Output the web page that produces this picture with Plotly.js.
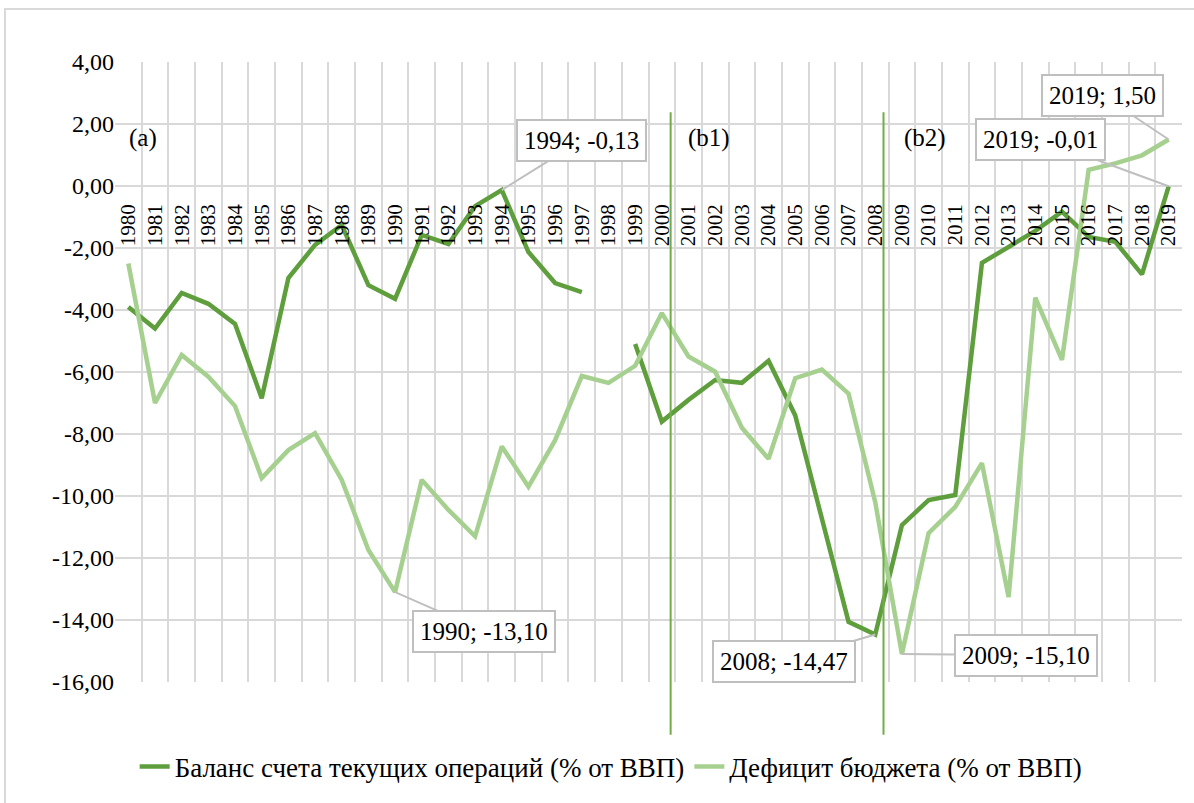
<!DOCTYPE html>
<html>
<head>
<meta charset="utf-8">
<script src="https://cdn.plot.ly/plotly-3.0.1.min.js"></script>
<style>
html,body{margin:0;padding:0;background:#fff;}
#chart text{font-family:"Liberation Serif","Times New Roman",serif !important;}
</style>
</head>
<body>
<div id="chart" style="width:1194px;height:803px"></div>
<script>
// ---- data ----
const years = [1980,1981,1982,1983,1984,1985,1986,1987,1988,1989,1990,1991,1992,1993,1994,1995,1996,1997,1998,1999,
               2000,2001,2002,2003,2004,2005,2006,2007,2008,2009,2010,2011,2012,2013,2014,2015,2016,2017,2018,2019];
const currentAccount = [-3.9,-4.6,-3.45,-3.8,-4.45,-6.85,-2.97,-1.9,-1.26,-3.2,-3.64,-1.58,-1.87,-0.65,-0.13,-2.13,-3.13,-3.42,null,-5.1,
                        -7.6,-6.9,-6.26,-6.35,-5.64,-7.4,-10.8,-14.06,-14.47,-10.94,-10.13,-9.97,-2.48,-1.95,-1.45,-0.83,-1.64,-1.8,-2.85,-0.01];
const budgetDeficit = [-2.5,-7.0,-5.45,-6.15,-7.1,-9.42,-8.52,-7.97,-9.48,-11.74,-13.1,-9.48,-10.45,-11.3,-8.4,-9.7,-8.2,-6.13,-6.35,-5.8,
                       -4.1,-5.5,-5.99,-7.8,-8.8,-6.2,-5.92,-6.7,-10.2,-15.1,-11.2,-10.35,-8.94,-13.26,-3.6,-5.61,0.52,0.73,0.99,1.5];
const seriesNames = ["Баланс счета текущих операций (% от ВВП)", "Дефицит бюджета (% от ВВП)"];
const yTickVals = [4,2,0,-2,-4,-6,-8,-10,-12,-14,-16];
const yTickText = ["4,00","2,00","0,00","-2,00","-4,00","-6,00","-8,00","-10,00","-12,00","-14,00","-16,00"];
const periodLabels = ["(a)","(b1)","(b2)"];
const periodLabelYears = [1980.56, 2001.78, 2009.85];
const periodBreaks = [2000.33, 2008.31];
// callouts: year, series index (0 = current account, 1 = budget deficit)
const calloutYears = [1994, 1990, 2008, 2009, 2019, 2019];
const calloutSeries = [0, 1, 0, 1, 0, 1];

// ---- build ----
const FAM = "Liberation Serif";
const dark = "#5e9e3c", light = "#a6d08f";
const seriesData = [currentAccount, budgetDeficit];
function fmt(v){ return v.toFixed(2).replace(".", ","); }

const traces = [
  {x: years, y: currentAccount, name: seriesNames[0], type: "scatter", mode: "lines",
   line: {color: dark, width: 4.5}, connectgaps: false},
  {x: years, y: budgetDeficit, name: seriesNames[1], type: "scatter", mode: "lines",
   line: {color: light, width: 4.5}}
];

const halfYears = years.map(y => y - 0.5).concat([years[years.length-1] + 0.5]);

const offsets = [[80,-50],[89,39],[-91,27],[124,1],[-128,-47],[-66,-44]];
const annotations = calloutYears.map((yr, i) => {
  const v = seriesData[calloutSeries[i]][years.indexOf(yr)];
  return {x: yr, y: v, xref: "x", yref: "y", text: yr + "; " + fmt(v),
    showarrow: true, arrowhead: 0, arrowwidth: 2, arrowcolor: "#bfbfbf",
    ax: offsets[i][0], ay: offsets[i][1],
    bgcolor: "#ffffff", bordercolor: "#bfbfbf", borderwidth: 2, borderpad: 6,
    font: {family: FAM, size: 25, color: "#000000"}};
});
periodLabels.forEach((t, i) => {
  annotations.push({x: periodLabelYears[i], y: 1.55, xref: "x", yref: "y", text: t,
    showarrow: false, font: {family: FAM, size: 25, color: "#000000"}});
});

const shapes = periodBreaks.map(xb => ({type: "line", xref: "x", yref: "paper",
  x0: xb, x1: xb, y0: -0.085, y1: 0.919, line: {color: "#70ad47", width: 2}}));
shapes.push({type: "rect", xref: "paper", yref: "paper", x0: -0.1031, x1: 1.05, y0: -0.3, y1: 1.0855,
  line: {color: "#d9d9d9", width: 2}, layer: "below"});

const layout = {
  width: 1194, height: 803,
  margin: {l: 115, r: 12, t: 62, b: 121},
  paper_bgcolor: "#ffffff", plot_bgcolor: "#ffffff",
  font: {family: FAM, color: "#000000"},
  showlegend: true,
  legend: {orientation: "h", x: 0.465, xanchor: "center", y: -0.137, yanchor: "middle",
    font: {family: FAM, size: 27, color: "#000000"}},
  xaxis: {range: [1979.5, 2019.5], tickmode: "array", tickvals: years,
    ticktext: years.map(String),
    tickangle: -90, showgrid: false, zeroline: false, showline: false, ticks: "",
    anchor: "free", position: 0.779,
    tickfont: {family: FAM, size: 21, color: "#000000"},
    minor: {tickmode: "array", tickvals: halfYears, showgrid: true, gridcolor: "#d9d9d9", gridwidth: 1.5, ticks: ""}},
  yaxis: {range: [-16, 4], tickmode: "array", tickvals: yTickVals, ticktext: yTickText,
    showgrid: true, gridcolor: "#d9d9d9", gridwidth: 1.5, zeroline: false, showline: false, ticks: "",
    tickfont: {family: FAM, size: 24, color: "#000000"}},
  annotations: annotations,
  shapes: shapes
};

Plotly.newPlot("chart", traces, layout, {displayModeBar: false});
</script>
</body>
</html>
